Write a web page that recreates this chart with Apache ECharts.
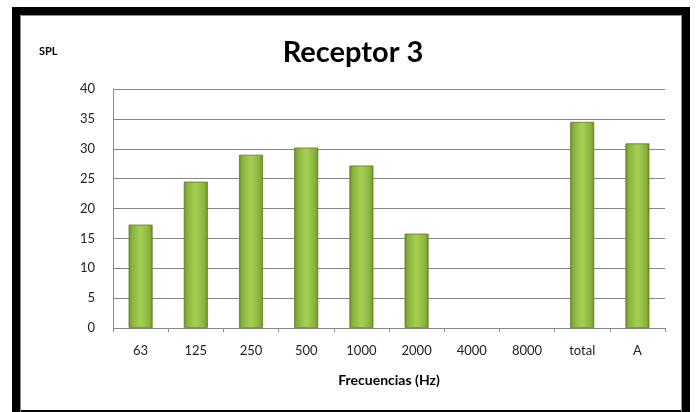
<!DOCTYPE html>
<html>
<head>
<meta charset="utf-8">
<script src="https://cdn.jsdelivr.net/npm/echarts@6/dist/echarts.min.js"></script>
<style>
  html, body { margin: 0; padding: 0; background: #ffffff; }
  #chart { width: 696px; height: 412px; }
</style>
</head>
<body>
<div id="chart"></div>
<script>
// Frequency bands (Hz) plus overall and A-weighted totals
const categories = ['63', '125', '250', '500', '1000', '2000', '4000', '8000', 'total', 'A'];
// Sound pressure level per band (dB); 4000 and 8000 have no value
const splValues = [17.3, 24.5, 29.0, 30.2, 27.2, 15.8, null, null, 34.5, 30.9];
const yTicks = { min: 0, max: 40, step: 5 };

const font = 'Lato, "Open Sans", sans-serif';

const barFill = {
  type: 'linear', x: 0, y: 0, x2: 1, y2: 0,
  colorStops: [
    { offset: 0, color: '#6a8a2a' },
    { offset: 0.12, color: '#86b039' },
    { offset: 0.45, color: '#a3cd51' },
    { offset: 0.55, color: '#a3cd51' },
    { offset: 0.88, color: '#86b039' },
    { offset: 1, color: '#6a8a2a' }
  ]
};

const chart = echarts.init(document.getElementById('chart'), null, { renderer: 'canvas' });

chart.setOption({
  animation: false,
  backgroundColor: '#ffffff',
  title: {
    text: 'Receptor 3',
    left: 348,
    top: 33,
    textAlign: 'center',
    textStyle: { fontFamily: font, fontSize: 29, fontWeight: 'bold', color: '#000000' }
  },
  graphic: [
    // heavy black frame with a thin grey inner rule
    { type: 'rect', silent: true, shape: { x: 16, y: 11, width: 670, height: 403 },
      style: { fill: null, stroke: '#000000', lineWidth: 8 } },
    { type: 'rect', silent: true, shape: { x: 20.5, y: 15.5, width: 661, height: 400 },
      style: { fill: null, stroke: '#8c8c8c', lineWidth: 1 } },
    { type: 'text', left: 39, top: 46,
      style: { text: 'SPL', fill: '#000000', font: 'bold 11px ' + font } }
  ],
  grid: { left: 113, right: 31, top: 89, bottom: 84, containLabel: false },
  xAxis: {
    type: 'category',
    data: categories,
    name: 'Frecuencias (Hz)',
    nameLocation: 'middle',
    nameGap: 45,
    nameTextStyle: { fontFamily: font, fontSize: 14, fontWeight: 'bold', color: '#000000' },
    axisLine: { show: false },
    axisTick: { show: true, length: 4, inside: false, lineStyle: { color: '#8c8c8c' } },
    axisLabel: { margin: 16, fontFamily: font, fontSize: 13, color: '#222222' }
  },
  yAxis: {
    type: 'value',
    min: yTicks.min,
    max: yTicks.max,
    interval: yTicks.step,
    axisLine: { show: true, lineStyle: { color: '#8c8c8c' } },
    axisTick: { show: false },
    axisLabel: { margin: 18, fontFamily: font, fontSize: 13, color: '#222222' },
    splitLine: { show: true, lineStyle: { color: '#868686', width: 1 } }
  },
  series: [{
    type: 'bar',
    data: splValues,
    barWidth: 24,
    itemStyle: {
      color: barFill,
      borderColor: '#5f7d25',
      borderWidth: 0.8
    }
  }]
});
</script>
</body>
</html>
